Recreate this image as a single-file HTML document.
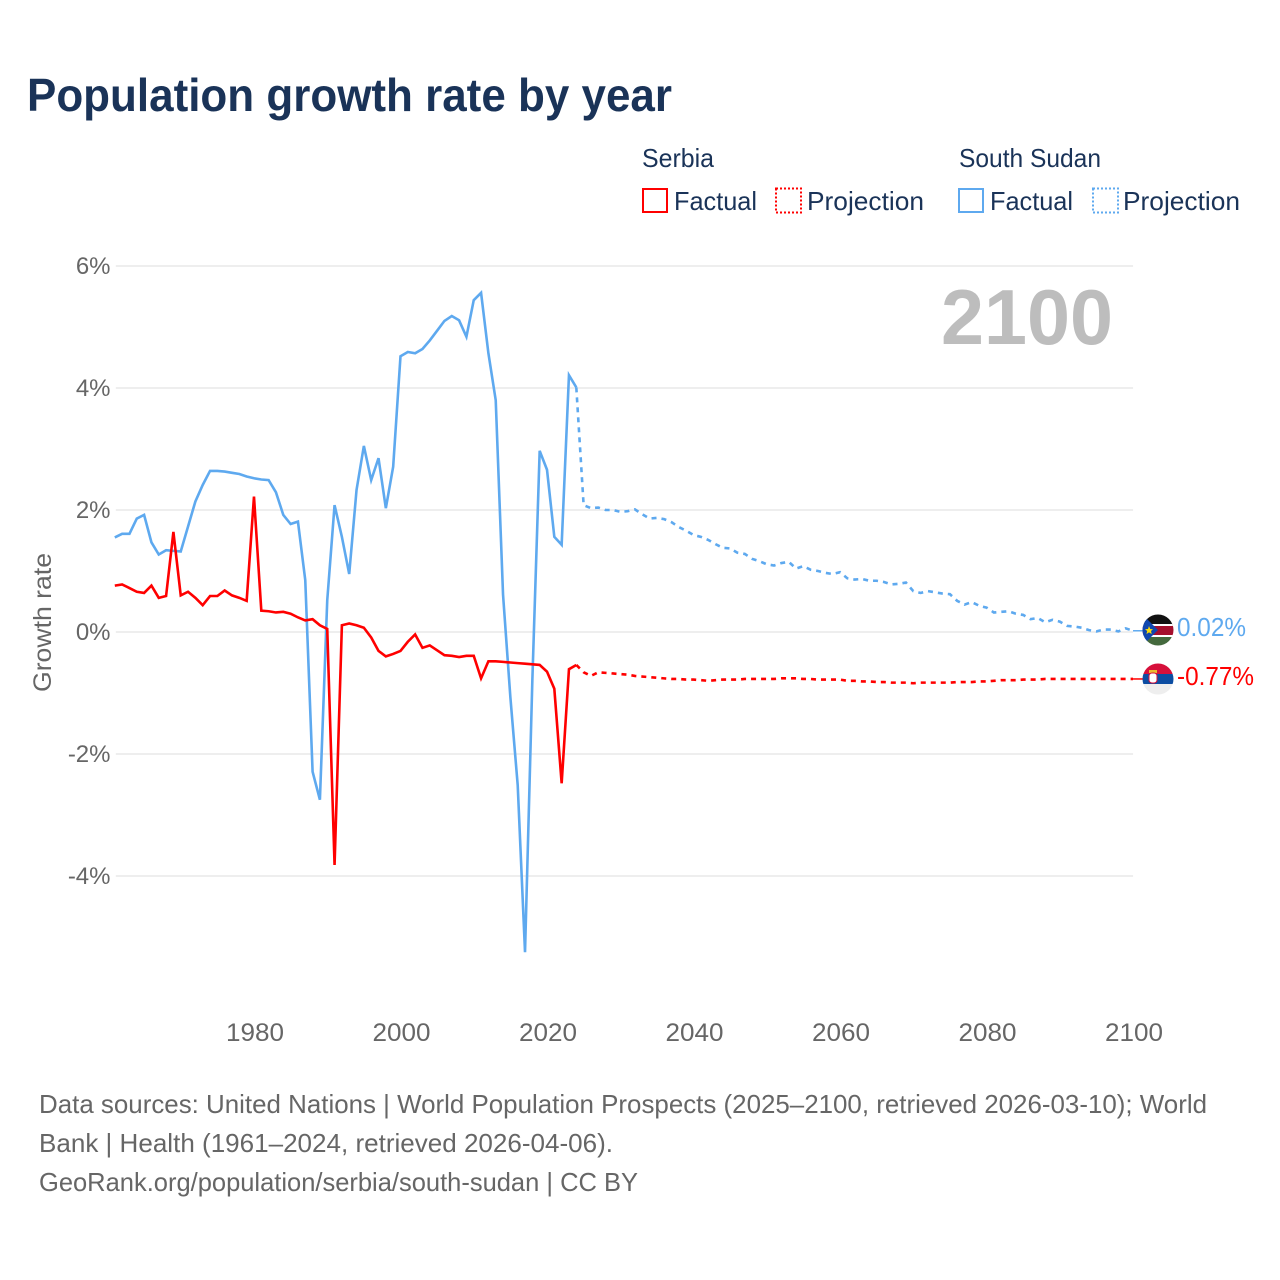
<!DOCTYPE html>
<html lang="en">
<head>
<meta charset="utf-8">
<title>Population growth rate by year</title>
<style>
html,body{margin:0;padding:0;background:#fff}
svg{display:block}
text{font-family:"Liberation Sans",sans-serif}
</style>
</head>
<body>
<svg id="chart" xmlns="http://www.w3.org/2000/svg" width="1280" height="1280" viewBox="0 0 1280 1280">
  <rect width="1280" height="1280" fill="#fff"/>
  <text x="27" y="111" font-size="46" font-weight="700" fill="#1a3358" textLength="645" lengthAdjust="spacingAndGlyphs">Population growth rate by year</text>

  <g font-size="26" fill="#1a3358">
    <text x="642" y="167" textLength="72" lengthAdjust="spacingAndGlyphs">Serbia</text>
    <text x="959" y="167" textLength="142" lengthAdjust="spacingAndGlyphs">South Sudan</text>
    <rect x="643" y="189" width="24" height="23" fill="none" stroke="#ff0000" stroke-width="2"/>
    <text x="674" y="210" textLength="83" lengthAdjust="spacingAndGlyphs">Factual</text>
    <rect x="776" y="188.5" width="25" height="24" fill="none" stroke="#ff0000" stroke-width="2" stroke-dasharray="2 2"/>
    <text x="807" y="210" textLength="117" lengthAdjust="spacingAndGlyphs">Projection</text>
    <rect x="959" y="189" width="24" height="23" fill="none" stroke="#5ea9ef" stroke-width="2"/>
    <text x="990" y="210" textLength="83" lengthAdjust="spacingAndGlyphs">Factual</text>
    <rect x="1093" y="188.5" width="25" height="24" fill="none" stroke="#5ea9ef" stroke-width="2" stroke-dasharray="2 2"/>
    <text x="1123" y="210" textLength="117" lengthAdjust="spacingAndGlyphs">Projection</text>
  </g>

  <g id="grid"></g>
  <g id="y-ticks" font-size="24" fill="#666"></g>
  <g id="x-ticks" font-size="25" fill="#666"></g>
  <text transform="translate(51 622.5) rotate(-90)" text-anchor="middle" font-size="25" fill="#666" textLength="139" lengthAdjust="spacingAndGlyphs">Growth rate</text>
  <text x="941" y="344" font-size="78" font-weight="700" fill="#bdbdbd" textLength="172" lengthAdjust="spacingAndGlyphs">2100</text>

  <g id="series"></g>

  <defs>
    <clipPath id="flag-clip-ss"><circle cx="1158" cy="630" r="15.5"/></clipPath>
    <clipPath id="flag-clip-rs"><circle cx="1158" cy="679" r="15.5"/></clipPath>
  </defs>
  <g clip-path="url(#flag-clip-ss)">
    <rect x="1142" y="614" width="32" height="11" fill="#111"/>
    <rect x="1142" y="625" width="32" height="11" fill="#a50f2d"/>
    <rect x="1142" y="624" width="32" height="2" fill="#fff"/>
    <rect x="1142" y="635" width="32" height="2" fill="#fff"/>
    <rect x="1142" y="637" width="32" height="9" fill="#44693d"/>
    <polygon points="1142,614 1158,630 1142,646" fill="#0f47af"/>
    <polygon points="1149,626 1150.2,629 1153,629.2 1151,631 1151.7,634 1149,632.4 1146.5,634 1147.2,631 1145,629.2 1148,629" fill="#fcdd09"/>
  </g>
  <g clip-path="url(#flag-clip-rs)">
    <rect x="1142" y="663" width="32" height="11" fill="#d6103b"/>
    <rect x="1142" y="674" width="32" height="10" fill="#0c4da2"/>
    <rect x="1142" y="684" width="32" height="11" fill="#eeeeee"/>
    <rect x="1149" y="670" width="8" height="3" fill="#edb92e"/>
    <rect x="1149" y="673" width="8" height="10" rx="3" fill="#fff" stroke="#d6103b" stroke-width="1"/>
  </g>
  <text id="label-ss" x="1177" y="636" font-size="26" fill="#5ea9ef" textLength="69" lengthAdjust="spacingAndGlyphs"></text>
  <text id="label-rs" x="1177" y="685" font-size="26" fill="#ff0000" textLength="77" lengthAdjust="spacingAndGlyphs"></text>

  <g font-size="26" fill="#666">
    <text x="39" y="1113" textLength="1168" lengthAdjust="spacingAndGlyphs">Data sources: United Nations | World Population Prospects (2025–2100, retrieved 2026-03-10); World</text>
    <text x="39" y="1152" textLength="574" lengthAdjust="spacingAndGlyphs">Bank | Health (1961–2024, retrieved 2026-04-06).</text>
    <text x="39" y="1191" textLength="599" lengthAdjust="spacingAndGlyphs">GeoRank.org/population/serbia/south-sudan | CC BY</text>
  </g>
</svg>

<script>
const yTickValues = [6, 4, 2, 0, -2, -4];
const xTickYears = [1980, 2000, 2020, 2040, 2060, 2080, 2100];

const factualStartYear = 1961;
const projectionStartYear = 2024;

const southSudanFactual = [1.55,1.61,1.61,1.86,1.92,1.47,1.27,1.34,1.33,1.32,1.73,2.14,2.41,2.64,2.64,2.63,2.61,2.59,2.55,2.52,2.50,2.49,2.29,1.92,1.77,1.81,0.85,-2.29,-2.75,0.52,2.08,1.56,0.95,2.33,3.05,2.49,2.85,2.03,2.71,4.52,4.59,4.57,4.64,4.78,4.94,5.10,5.18,5.11,4.84,5.44,5.56,4.57,3.80,0.61,-1.07,-2.51,-5.25,-0.79,2.97,2.66,1.56,1.43,4.21,4.01];
const southSudanProjection = [4.01,2.08,2.03,2.04,2.00,2.00,1.97,1.98,2.01,1.93,1.86,1.87,1.85,1.80,1.72,1.66,1.59,1.56,1.51,1.44,1.38,1.37,1.30,1.28,1.20,1.16,1.11,1.09,1.13,1.15,1.04,1.08,1.02,1.00,0.97,0.95,0.98,0.88,0.86,0.87,0.84,0.84,0.82,0.78,0.79,0.81,0.67,0.64,0.67,0.65,0.63,0.62,0.51,0.45,0.49,0.43,0.40,0.32,0.33,0.34,0.30,0.28,0.21,0.23,0.16,0.20,0.17,0.10,0.09,0.07,0.03,0.01,0.04,0.04,0.01,0.06,0.02];
const serbiaFactual = [0.76,0.78,0.72,0.66,0.64,0.76,0.56,0.59,1.64,0.60,0.66,0.56,0.44,0.59,0.59,0.68,0.60,0.56,0.51,2.22,0.35,0.34,0.32,0.33,0.30,0.24,0.19,0.21,0.11,0.05,-3.82,0.11,0.14,0.11,0.07,-0.09,-0.31,-0.40,-0.36,-0.31,-0.16,-0.04,-0.26,-0.22,-0.30,-0.38,-0.39,-0.41,-0.39,-0.39,-0.76,-0.48,-0.48,-0.49,-0.50,-0.51,-0.52,-0.53,-0.54,-0.65,-0.93,-2.48,-0.61,-0.54];
const serbiaProjection = [-0.54,-0.66,-0.72,-0.66,-0.67,-0.68,-0.69,-0.70,-0.72,-0.73,-0.74,-0.75,-0.76,-0.77,-0.77,-0.78,-0.78,-0.79,-0.80,-0.79,-0.78,-0.78,-0.78,-0.77,-0.77,-0.77,-0.77,-0.77,-0.76,-0.76,-0.76,-0.77,-0.77,-0.78,-0.78,-0.78,-0.78,-0.80,-0.80,-0.81,-0.81,-0.82,-0.82,-0.83,-0.83,-0.83,-0.84,-0.83,-0.83,-0.83,-0.83,-0.83,-0.82,-0.82,-0.82,-0.81,-0.81,-0.80,-0.79,-0.79,-0.79,-0.78,-0.78,-0.78,-0.77,-0.77,-0.77,-0.77,-0.77,-0.77,-0.77,-0.77,-0.77,-0.77,-0.77,-0.77,-0.77];

const endLabelSouthSudan = "0.02%";
const endLabelSerbia = "-0.77%";

const SVG_NS = "http://www.w3.org/2000/svg";
function xScale(year) { return 114.8 + (year - 1961) * 7.3254; }
function yScale(value) { return 632 - value * 61; }
function pathFrom(values, startYear) {
  return values.map(function (v, i) {
    return (i ? "L" : "M") + xScale(startYear + i).toFixed(2) + " " + yScale(v).toFixed(2);
  }).join("");
}
function drawLine(values, startYear, colour, dash) {
  const p = document.createElementNS(SVG_NS, "path");
  p.setAttribute("d", pathFrom(values, startYear));
  p.setAttribute("fill", "none");
  p.setAttribute("stroke", colour);
  p.setAttribute("stroke-width", "2.6");
  p.setAttribute("stroke-linejoin", "miter");
  if (dash) p.setAttribute("stroke-dasharray", dash);
  document.getElementById("series").appendChild(p);
  return p;
}

const gridGroup = document.getElementById("grid");
const yTickGroup = document.getElementById("y-ticks");
yTickValues.forEach(function (v) {
  const line = document.createElementNS(SVG_NS, "line");
  
  
  line.setAttribute("x1", xScale(1961) + 1);
  line.setAttribute("x2", xScale(2100));
  line.setAttribute("y1", yScale(v));
  line.setAttribute("y2", yScale(v));
  line.setAttribute("stroke", "#eeeeee");
  line.setAttribute("stroke-width", "2");
  gridGroup.appendChild(line);
  const t = document.createElementNS(SVG_NS, "text");
  
  
  t.setAttribute("x", "110.5");
  t.setAttribute("y", yScale(v) + 8);
  t.setAttribute("text-anchor", "end");
  t.textContent = v + "%";
  yTickGroup.appendChild(t);
});

const xTickGroup = document.getElementById("x-ticks");
xTickYears.forEach(function (year) {
  const t = document.createElementNS(SVG_NS, "text");
  
  
  t.setAttribute("x", xScale(year) + 1);
  t.setAttribute("y", "1041");
  t.setAttribute("text-anchor", "middle");
  t.setAttribute("textLength", "58");
  t.setAttribute("lengthAdjust", "spacingAndGlyphs");
  t.textContent = year;
  xTickGroup.appendChild(t);
});

const ssFactualLine = drawLine(southSudanFactual, factualStartYear, "#5ea9ef", null);


const ssProjectionLine = drawLine(southSudanProjection, projectionStartYear, "#5ea9ef", "5 5");


const rsFactualLine = drawLine(serbiaFactual, factualStartYear, "#ff0000", null);


const rsProjectionLine = drawLine(serbiaProjection, projectionStartYear, "#ff0000", "5 5");



function drawConnector(values, colour) {
  const c = document.createElementNS(SVG_NS, "line");
  const y = yScale(values[values.length - 1]);
  c.setAttribute("x1", xScale(2100));
  c.setAttribute("x2", "1143");
  c.setAttribute("y1", y);
  c.setAttribute("y2", y);
  c.setAttribute("stroke", colour);
  c.setAttribute("stroke-width", "1.5");
  document.getElementById("series").appendChild(c);
  return c;
}
const ssConnector = drawConnector(southSudanProjection, "#5ea9ef");


const rsConnector = drawConnector(serbiaProjection, "#ff0000");



document.getElementById("label-ss").textContent = endLabelSouthSudan;
document.getElementById("label-rs").textContent = endLabelSerbia;
</script>
</body>
</html>
